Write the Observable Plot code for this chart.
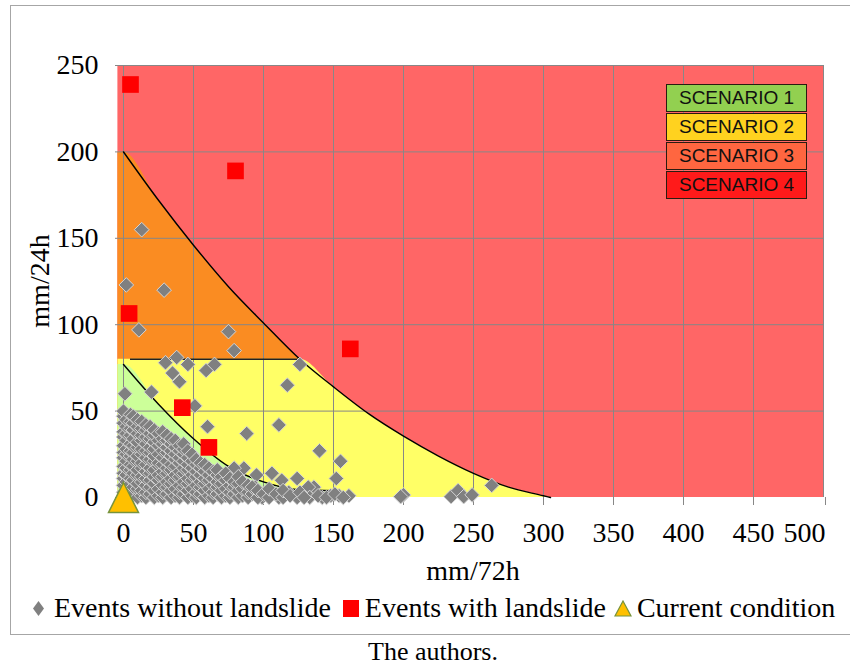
<!DOCTYPE html>
<html>
<head>
<meta charset="utf-8">
<script src="https://cdn.jsdelivr.net/npm/d3@7"></script>
<script src="https://cdn.jsdelivr.net/npm/@observablehq/plot@0.6"></script>
<style>
  html, body { margin: 0; padding: 0; background: #fff; }
  body { width: 850px; height: 666px; position: relative; overflow: hidden; font-family: "Liberation Serif", "Times New Roman", serif; }
  #frame { position: absolute; left: 10px; top: 5px; width: 860px; height: 628px; border: 1px solid #a6a6a6; }
  #chart { position: absolute; left: 0; top: 0; }
  .lbl { position: absolute; font-size: 28px; line-height: 28px; white-space: nowrap; color: #000; }
  #scen { position: absolute; left: 666px; top: 84px; width: 141px; }
  .sbox { box-sizing: border-box; height: 28px; border: 1px solid #2a1c10; margin-bottom: 1px;
          font-family: "Liberation Sans", Arial, sans-serif; font-size: 19px; line-height: 26px; text-align: center; color: #111; }
  #legend { position: absolute; left: 33px; top: 594px; height: 28px; display: flex; align-items: center;
            font-size: 28px; line-height: 28px; white-space: nowrap; }
</style>
</head>
<body>
<div id="frame"></div>
<div id="chart"></div>
<div class="lbl" id="ylab" style="left:40px; top:281px; transform: translate(-50%,-50%) rotate(-90deg);">mm/24h</div>
<div class="lbl" id="xlab" style="left:473px; top:557px; transform: translateX(-50%);">mm/72h</div>
<div id="scen"></div>
<div id="legend"></div>
<div class="lbl" id="caption" style="left:433px; top:639px; font-size:26px; line-height:26px; transform: translateX(-50%);">The authors.</div>
<script>
// ---------- data ----------
const xTicks = [0, 50, 100, 150, 200, 250, 300, 350, 400, 450, 500];
const yTicks = [0, 50, 100, 150, 200, 250];
const yGridValues = [50, 100, 150, 200, 250];

// scenario threshold curves (mm/72h -> mm/24h)
const upperCurveX = [-4, 0, 25, 50, 75, 100, 126, 150, 175, 200, 225, 250, 275, 300, 305];
const upperCurveY = [200, 200, 172, 146, 122, 101, 80, 64, 48.5, 35.5, 24, 14, 6, 1, 0];
const lowerCurveX = [-4, 0, 25, 50, 75, 100, 125, 151];
const lowerCurveY = [77, 77, 54, 34, 18, 9, 4.5, 4];
const scenario3Floor = [80];          // mm/24h level between scenario 2 and 3
const scenario3FloorX = [5, 125];      // extent of the drawn threshold segment
const plotBackground = [{x1: -4, x2: 500, y1: 0, y2: 250}];

const scenarioLabels = ["SCENARIO 1", "SCENARIO 2", "SCENARIO 3", "SCENARIO 4"];
const scenarioColors = ["#92D050", "#FFD21F", "#FF6640", "#FF1A1A"];
const regionColors = {red: "#FF6666", orange: "#FA8C22", yellow: "#FFFF66", green: "#CCFF99"};

const legendLabels = ["Events without landslide", "Events with landslide", "Current condition"];

// events with landslide [mm/72h, mm/24h]
const withLandslide = [[5, 239], [80, 189], [4, 106.5], [162, 86], [42, 52], [61, 29]];
// current condition
const currentCondition = [[0, 0]];
// events without landslide, scattered ones [mm/72h, mm/24h]
const withoutLandslideSparse = [
  [13,155],[2,123],[29,120],[11,97],[75,96],[79,85],[38,81],[30,78],[46,77],[59,73.5],[65,77],[35,72],[40,67],
  [126,77],[117,65],[20,61],[1,60],[51,53],[60,41],[88,37],[111,42],[140,27],[155,21],[152,11],[124,11],[106,14],
  [95,13],[86,17],[79,17],[113,10],[136,6],[132,6],[161,1],[154,1],[148,1],[200,1.5],[198,0.5],[234,0.5],[239,4],
  [243,0.5],[249,1.5],[263,7],[124,0],[142,0],[133,0],[118,3],[111,0],[105,3],[99,0],[94,6],[87,2],[84,6]
];
// events without landslide, dense cluster: [mm/72h, [mm/24h values]]
const withoutLandslideDense = [
  [0, [0,3,7,11,14,18,23,26,30,35,38,43,47,50]],
  [2, [1,5,9,13,17,21,25,28,33,37,41,45]],
  [5, [0,4,8,11,16,19,24,27,31,36,40,44,48]],
  [7, [2,6,10,14,18,22,26,30,34,39,43,47]],
  [10, [0,5,8,13,16,21,24,29,32,37,41,45]],
  [13, [1,4,9,12,17,20,25,28,33,36,40,44]],
  [16, [0,3,7,11,15,19,23,27,31,35,39,42]],
  [19, [2,6,10,14,17,22,26,29,34,37,41]],
  [22, [0,4,8,12,16,21,24,28,32,36,39]],
  [25, [1,5,10,13,18,20,25,30,33,37]],
  [28, [0,3,7,12,15,19,23,27,31,34,38]],
  [31, [2,6,9,14,17,21,26,29,33,36]],
  [34, [0,4,8,11,16,19,24,27,31,34]],
  [37, [1,5,10,13,18,22,25,29,33]],
  [40, [0,3,7,12,15,20,23,27,30]],
  [43, [2,6,9,14,17,21,25,28,31]],
  [46, [0,4,8,11,16,19,23,27]],
  [49, [1,5,10,13,17,21,25]],
  [52, [0,3,7,12,15,19,22]],
  [55, [2,6,9,13,17,20]],
  [58, [0,4,8,11,15,19]],
  [61, [1,5,10,13,17]],
  [64, [0,3,7,11,15]],
  [67, [2,6,9,13,16]],
  [70, [0,4,8,12]],
  [73, [1,5,10,14]],
  [76, [0,3,7,11]],
  [79, [2,6,9]],
  [82, [0,4,8,12]],
  [85, [1,5,9]],
  [89, [0,3,7]],
  [92, [2,6]],
  [96, [0,4]],
  [100, [2]],
  [104, [0,5]],
  [109, [2]],
  [114, [0,4]],
  [119, [1]],
  [126, [3]],
  [129, [0]],
  [139, [1]],
  [145, [0]],
  [151, [2]],
  [157, [0]]
];

// ---------- chart ----------
const withoutLandslide = withoutLandslideSparse.concat(
  withoutLandslideDense.flatMap(([x, ys]) => ys.map(y => [x, y]))
);
const upperIdx = d3.range(upperCurveX.length);
const upperLineIdx = upperIdx.filter(i => upperCurveX[i] >= 0);
const lowerIdx = d3.range(lowerCurveX.length);
const lowerLineIdx = lowerIdx.filter(i => lowerCurveX[i] >= 0);

const triangleSymbol = {
  draw(ctx, size) {
    const s = Math.sqrt(size);
    ctx.moveTo(0, -s / 2);
    ctx.lineTo(s / 2, s / 2);
    ctx.lineTo(-s / 2, s / 2);
    ctx.closePath();
  }
};

const font = "Liberation Serif, Times New Roman, serif";
const gridColor = "#878787";

const chart = Plot.plot({
  width: 850,
  height: 560,
  marginLeft: 123,
  marginRight: 27,
  marginTop: 65,
  marginBottom: 63,
  style: {fontFamily: font, fontSize: "28px", color: "#000", background: "transparent"},
  x: {domain: [0, 500]},
  y: {domain: [0, 250]},
  marks: [
    Plot.rect(plotBackground, {x1: "x1", x2: "x2", y1: "y1", y2: "y2", fill: regionColors.red}),
    Plot.areaY(upperIdx, {x: i => upperCurveX[i], y: i => upperCurveY[i], fill: regionColors.orange, curve: "monotone-x"}),
    Plot.areaY(upperIdx, {x: i => upperCurveX[i], y: i => Math.min(upperCurveY[i], scenario3Floor[0]), fill: regionColors.yellow, curve: "monotone-x"}),
    Plot.areaY(lowerIdx, {x: i => lowerCurveX[i], y: i => lowerCurveY[i], fill: regionColors.green, curve: "monotone-x"}),
    Plot.gridX(xTicks, {stroke: gridColor, strokeOpacity: 1, strokeWidth: 1}),
    Plot.gridY(yGridValues, {stroke: gridColor, strokeOpacity: 1, strokeWidth: 1}),
    Plot.axisX(xTicks.slice(0, -1), {tickSize: 8, tickPadding: 17, stroke: gridColor, fontSize: 28, fontFamily: font, fill: "#000"}),
    Plot.axisX(xTicks.slice(-1), {tickSize: 8, tickPadding: 17, stroke: gridColor, fontSize: 28, fontFamily: font, fill: "#000", textAnchor: "end", dx: 2}),
    Plot.axisY(yTicks, {tickSize: 8, tickPadding: 17, stroke: gridColor, fontSize: 28, fontFamily: font, fill: "#000"}),
    Plot.lineY(upperLineIdx, {x: i => upperCurveX[i], y: i => upperCurveY[i], stroke: "#000", strokeWidth: 1.4, curve: "monotone-x"}),
    Plot.lineY(lowerLineIdx, {x: i => lowerCurveX[i], y: i => lowerCurveY[i], stroke: "#000", strokeWidth: 1.4, curve: "monotone-x"}),
    Plot.ruleY(scenario3Floor, {x1: scenario3FloorX[0], x2: scenario3FloorX[1], stroke: "#222", strokeWidth: 1.5}),
    Plot.dot(withoutLandslide, {x: d => d[0], y: d => d[1], symbol: "diamond2", r: 6.6, fill: "#808080", stroke: "#d4d4d4", strokeWidth: 1}),
    Plot.dot(withLandslide, {x: d => d[0], y: d => d[1], symbol: "square", r: 9.4, fill: "#FF0000"}),
    Plot.dot(currentCondition, {x: d => d[0], y: d => d[1], symbol: triangleSymbol, r: 16.9, fill: "#FFC000", stroke: "#77933C", strokeWidth: 1.5})
  ]
});
document.getElementById("chart").appendChild(chart);

// scenario legend
const scen = document.getElementById("scen");
scenarioLabels.forEach((t, i) => {
  const d = document.createElement("div");
  d.className = "sbox";
  d.style.background = scenarioColors[i];
  d.textContent = t;
  scen.appendChild(d);
});

// bottom legend
const legend = document.getElementById("legend");
const markers = [
  '<svg width="11" height="15"><path d="M5.5 0 L11 7.5 L5.5 15 L0 7.5Z" fill="#808080"/></svg>',
  '<svg width="16" height="17"><rect width="16" height="17" fill="#FF0000"/></svg>',
  '<svg width="18" height="17"><path d="M9 1 L17 16 L1 16Z" fill="#FFC000" stroke="#77933C" stroke-width="1.2"/></svg>'
];
const markerGaps = [0, 12, 8];
const textGaps = [10, 6, 5];
legendLabels.forEach((t, i) => {
  const m = document.createElement("span");
  m.style.display = "inline-flex";
  m.style.marginLeft = markerGaps[i] + "px";
  m.innerHTML = markers[i];
  legend.appendChild(m);
  const s = document.createElement("span");
  s.style.marginLeft = textGaps[i] + "px";
  s.textContent = t;
  legend.appendChild(s);
});
</script>
</body>
</html>
